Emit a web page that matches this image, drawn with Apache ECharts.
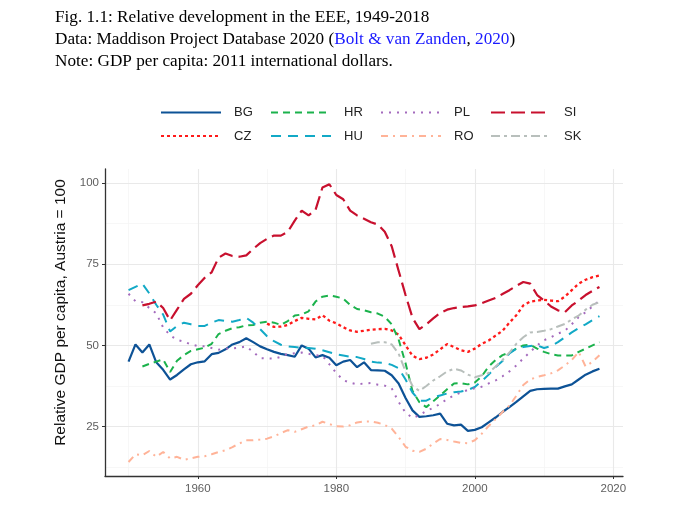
<!DOCTYPE html>
<html lang="en">
<head>
<meta charset="utf-8">
<title>Relative development in the EEE, 1949-2018</title>
<style>
  html, body { margin: 0; padding: 0; background: #fff; }
  #main { width: 690px; height: 506px; }
</style>
</head>
<body>
<div id="main"></div>
<script src="https://cdn.jsdelivr.net/npm/echarts@6/dist/echarts.min.js"></script>
<script>
// GDP per capita relative to Austria (= 100)
var countries = ['BG', 'CZ', 'HR', 'HU', 'PL', 'RO', 'SI', 'SK']

var startYear = { BG: 1950, CZ: 1970, HR: 1952, HU: 1950, PL: 1950, RO: 1950, SI: 1952, SK: 1985 }

var bgValues = [
  45, 50.3, 47.8, 50.3, 44.8, 42.5, 39.5, 40.9, 42.6, 44.2,
  44.8, 45.1, 47.3, 47.7, 48.8, 50.3, 51, 52.2, 51, 49.7,
  48.8, 48, 47.4, 47, 46.5, 50, 49, 46.3, 47, 46.2,
  43.9, 45, 45.5, 43.3, 44.8, 42.4, 42.3, 42.2, 40.8, 38.3,
  33.8, 30, 28, 28.2, 28.5, 29, 25.9, 25.4, 25.6, 23.7,
  24, 24.8, 26.3, 27.8, 29.5, 31, 32.6, 34.3, 36, 36.5,
  36.6, 36.7, 36.7, 37.4, 38, 39.5, 41, 42, 42.8
]
var czValues = [
  56.7, 55.7, 55.8, 56.3, 57.5, 58.5, 58.2, 58, 59.3, 57.6,
  56.8, 55.6, 54.6, 54.2, 54.5, 54.8, 55, 55.1, 54.6, 53.3,
  50, 46.8, 45.8, 46.2, 47.2, 48.8, 50.4, 49.5, 48.5, 48,
  49, 50.5, 51.5, 53, 54.5, 57, 59.3, 62.3, 63.5, 63.8,
  64, 63.8, 63.6, 65, 67, 69, 70.2, 71, 71.5
]
var hrValues = [
  43.5, 44.3, 45, 45.7, 41.8, 45.3, 47, 48.3,
  48.8, 49.3, 50.5, 53.5, 54.5, 55.3, 55.6, 56.2, 56.3, 57,
  57.3, 57, 56.3, 57.5, 59.2, 59.5, 60.5, 63.5, 65, 65.4,
  65, 64.4, 62.5, 61.2, 60.8, 60.2, 59.8, 58.8, 56.5, 51.8,
  44.5, 36, 32.5, 31, 32.8, 34.6, 36.5, 38.3, 38.4, 38,
  38.6, 40.5, 43.5, 45.5, 47, 47.8, 49, 50, 50.2, 49,
  48, 47.3, 46.9, 46.9, 46.9, 48, 49, 50, 51
]
var huValues = [
  67, 68, 69, 66, 62.5, 59.5, 54.3, 56, 57, 56.5,
  56, 56, 57, 57.8, 57.5, 57.3, 57.8, 58.5, 57, 55,
  52.8, 51.3, 50.2, 49.7, 49.5, 49.3, 49.2, 49, 48.5, 47.9,
  47.3, 46.9, 46.5, 46.4, 45.8, 45, 44.7, 44.6, 44, 43,
  39.5, 35.5, 33, 33, 34, 34.6, 35.2, 35.6, 35.8, 36.3,
  37.2, 39, 41, 43.3, 45.2, 47.5, 49, 49.5, 49.8, 50,
  49.2, 49.8, 51, 52.5, 54, 55.3, 56.5, 57.8, 59
]
var plValues = [
  65.9, 63.6, 63.3, 61.5, 59.9, 55.5, 53.1, 51.7, 51.2, 50.3,
  49.8, 49.7, 49.2, 48.7, 49, 49.1, 49.3, 49.7, 48, 46.1,
  46, 45.9, 46.5, 47.4, 47.6, 47.8, 47.4, 47, 46.8, 44.2,
  41.5, 39.3, 38.5, 38, 38.3, 38.4, 37.9, 37.6, 36.8, 32.6,
  29.3, 27.7, 28.5, 29.8, 30.8, 32, 33.5, 34.6, 35.5, 36.3,
  36.8, 37.3, 38.3, 39.2, 40.5, 42, 43.8, 46, 48, 50,
  51.6, 52.5, 53.6, 54.5, 56.5, 58.7, 60.2, 62, 63.8
]
var roValues = [
  14.1, 16.5, 16.2, 17.5, 15.7, 17.2, 15.2, 15.7, 14.8, 15.2,
  15.7, 15.9, 16.5, 17.2, 17.7, 18.7, 19.8, 20.8, 20.8, 21,
  21.3, 22, 23, 23.9, 23.4, 24.2, 25, 25.4, 26.5, 25.8,
  25.1, 25, 25.4, 26.3, 26.6, 26.6, 26.2, 25.5, 24.4, 21.8,
  18.8, 17.6, 17.2, 18.2, 19.8, 21.2, 20.9, 20.4, 20, 19.9,
  20.8, 22.8, 25.2, 27.3, 29.5, 31.5, 34.5, 37.8, 39.5, 40.3,
  40.8, 41.4, 42.3, 43.8, 45.5, 48, 43.5, 45, 47
]
var siValues = [
  62.3, 62.8, 63.5, 61.5, 57.7, 61, 64.3, 65.9,
  68.5, 70.8, 72.5, 77, 78.3, 77.5, 77.3, 77.7, 79.7, 81.5,
  82.8, 83.8, 83.8, 85, 88.4, 91.5, 90, 91.7, 98.6, 99.6,
  96.3, 95, 91.5, 90, 89, 87.9, 87.2, 85, 80.5, 73,
  65.5, 58.5, 55, 56.5, 58.3, 60, 61, 61.5, 61.8, 62,
  62.3, 63, 63.8, 64.6, 65.8, 67, 68.3, 69.5, 69, 65.5,
  63.8, 62, 60.8, 60.2, 62.3, 63.8, 65.5, 66.8, 68
]
var skValues = [
  50.5, 51, 51, 50.3, 47.5,
  42, 37.5, 36, 37.5, 39.2, 40.5, 42, 42.8, 42.3, 41,
  40.2, 40.8, 41.5, 43.5, 45.5, 47.8, 50.5, 52.5, 54, 54.1,
  54.5, 55, 55.8, 56.6, 58, 59.2, 61, 62.5, 63.3
]

var yTicks = [25, 50, 75, 100]
var yMinor = [12.5, 37.5, 62.5, 87.5]
var xTicks = [1960, 1980, 2000, 2020]
var xMinor = [1950, 1970, 1990, 2010]

// legend columns, two rows each
var legendColumns = [['BG', 'CZ'], ['HR', 'HU'], ['PL', 'RO'], ['SI', 'SK']]

var valuesOf = {
  BG: bgValues, CZ: czValues, HR: hrValues, HU: huValues,
  PL: plValues, RO: roValues, SI: siValues, SK: skValues,
}

var lineLook = {
  BG: { color: '#0d5296', type: 'solid', width: 2.2 },
  CZ: { color: '#ff1a1a', type: [3, 3], width: 2.3 },
  HR: { color: '#1bb24c', type: [7, 5], width: 2 },
  HU: { color: '#12a9c6', type: [10, 7], width: 2 },
  PL: { color: '#a46bbd', type: [2, 6], width: 2 },
  RO: { color: '#ffb398', type: [7, 5, 2, 5], width: 2 },
  SI: { color: '#c8102e', type: [14, 6], width: 2.2 },
  SK: { color: '#b8bfbc', type: [9, 4, 3, 4], width: 2 },
}

var xRange = [1946.6, 2021.4]
var yRange = [9.8, 104.3]

var pairs = (code) => {
    var vals = valuesOf[code]
    var l = []
    for (var i = 0; i < vals.length; i++) {
        l.push([startYear[code] + i, vals[i]])
    }
    return l
}

var buildSeries = () => {
    var list = []
    countries.forEach(code => {
        var look = lineLook[code]
        list.push({
            name: code,
            type: 'line',
            data: pairs(code),
            showSymbol: false,
            symbol: 'none',
            color: look.color,
            lineStyle: { color: look.color, type: look.type, width: look.width },
            emphasis: { disabled: true },
        })
    })
    return list
}

var buildLegends = () => {
    var l = []
    for (var i = 0; i < legendColumns.length; i++) {
        l.push({
            data: legendColumns[i],
            orient: 'vertical',
            left: 160 + i * 110,
            top: 106,
            padding: 0,
            itemWidth: 60,
            itemHeight: 14,
            itemGap: 10.5,
            selectedMode: false,
            itemStyle: { opacity: 0, borderWidth: 0 },
            textStyle: {
                fontFamily: 'Liberation Sans, Arial, sans-serif',
                fontSize: 13,
                color: '#222',
                padding: [0, 0, 0, 8],
            },
        })
    }
    return l
}

var axisText = {
    fontFamily: 'Liberation Sans, Arial, sans-serif',
    fontSize: 11.5,
    color: '#5e5e5e',
}

// an axis that only draws the light minor grid lines
var minorAxis = (range, values) => {
    return {
        type: 'value',
        min: range[0],
        max: range[1],
        axisLine: { show: false },
        axisTick: { show: false, customValues: values },
        axisLabel: { show: false, customValues: values },
        splitLine: { show: true, lineStyle: { color: '#f3f3f3', width: 0.7 } },
    }
}

var showChart = () => {
    var chart = echarts.init(document.querySelector('#main'), null, { renderer: 'canvas' })
    var serif = 'Liberation Serif, Times New Roman, serif'
    var option = {
        animation: false,
        backgroundColor: '#fff',
        title: {
            left: 50,
            top: 1,
            text: [
                '{a|Fig. 1.1: Relative development in the EEE, 1949-2018}',
                '{a|Data: Maddison Project Database 2020 (}{b|Bolt & van Zanden}{a|, }{b|2020}{a|)}',
                '{a|Note: GDP per capita: 2011 international dollars.}',
            ].join('\n'),
            textStyle: {
                fontWeight: 'normal',
                rich: {
                    a: { fontFamily: serif, fontWeight: 'normal', fontSize: 17.2, color: '#000', lineHeight: 22 },
                    b: { fontFamily: serif, fontWeight: 'normal', fontSize: 17.2, color: '#1a1aff', lineHeight: 22 },
                },
            },
        },
        legend: buildLegends(),
        grid: { left: 105, right: 67, top: 169, bottom: 30, containLabel: false },
        xAxis: [
            {
                type: 'value',
                min: xRange[0],
                max: xRange[1],
                position: 'bottom',
                axisLine: { show: true, onZero: false, lineStyle: { color: '#333', width: 1.3 } },
                axisTick: { show: true, length: 3, customValues: xTicks, lineStyle: { color: '#333' } },
                axisLabel: Object.assign({
                    customValues: xTicks,
                    margin: 7,
                    formatter: (v) => String(v),
                }, axisText),
                splitLine: { show: true, lineStyle: { color: '#e9e9e9', width: 1.1 } },
                z: 3,
            },
            minorAxis(xRange, xMinor),
        ],
        yAxis: [
            {
                type: 'value',
                min: yRange[0],
                max: yRange[1],
                position: 'left',
                name: 'Relative GDP per capita, Austria = 100',
                nameLocation: 'middle',
                nameGap: 25,
                nameTextStyle: {
                    fontFamily: 'Liberation Sans, Arial, sans-serif',
                    fontSize: 15.5,
                    color: '#111',
                    padding: [0, 0, 0, 20],
                },
                axisLine: { show: true, onZero: false, lineStyle: { color: '#333', width: 1.3 } },
                axisTick: { show: true, length: 3, customValues: yTicks, lineStyle: { color: '#333' } },
                axisLabel: Object.assign({
                    customValues: yTicks,
                    margin: 6,
                    formatter: (v) => String(v),
                }, axisText),
                splitLine: { show: true, lineStyle: { color: '#e9e9e9', width: 1.1 } },
                z: 3,
            },
            minorAxis(yRange, yMinor),
        ],
        series: buildSeries(),
    }
    chart.setOption(option)
}

var __main = () => {
    showChart()
}

__main()
</script>
</body>
</html>
